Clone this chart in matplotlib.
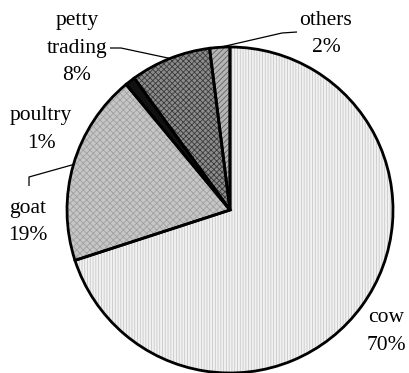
import numpy as np
import matplotlib
matplotlib.use("Agg")
import matplotlib.pyplot as plt

# data
labels = ["cow", "goat", "poultry", "petty\ntrading", "others"]
shares = [70, 19, 1, 8, 2]
pct_text = ["70%", "19%", "1%", "8%", "2%"]
face_cols = ["#f2f2f2", "#c6c6c6", "#111111", "#8c8c8c", "#b4b4b4"]
hatches = ["||||||", "xxxxx", None, "xxxxxx", "//////"]
hatch_cols = ["#c8c8c8", "#a0a0a0", None, "#3a3a3a", "#606060"]

W, H = 409, 373
cx, cy, R = 230, 210, 163   # pie centre and radius in pixels


def px(x, y):
    # pixel (from top-left) -> data coords, 1 unit = pie radius
    return (x - cx) / R, (cy - y) / R


fig = plt.figure(figsize=(W / 100, H / 100), dpi=100)
ax = fig.add_axes([0, 0, 1, 1])

plt.rcParams["hatch.linewidth"] = 0.6

# base fill
wedges, _ = ax.pie(shares, startangle=90, counterclock=False, radius=1,
                   colors=face_cols, wedgeprops=dict(linewidth=0))
# texture layer
for w, h, hc in zip(wedges, hatches, hatch_cols):
    if h is None:
        continue
    ax.pie([w.theta2 - w.theta1, 360 - (w.theta2 - w.theta1)], startangle=w.theta1,
           radius=1, colors=["none", "none"],
           wedgeprops=dict(linewidth=0, edgecolor=hc, hatch=h))
    # only keep first wedge hatch
    ax.patches[-1].remove()
# outline
ax.pie(shares, startangle=90, counterclock=False, radius=1,
       colors=["none"] * len(shares),
       wedgeprops=dict(linewidth=2, edgecolor="black"))

ax.set_xlim(-cx / R, (W - cx) / R)
ax.set_ylim((cy - H) / R, cy / R)
ax.set_aspect("equal")
ax.axis("off")

font = dict(family=["Liberation Serif", "DejaVu Serif"], fontsize=15.5,
            ha="center", va="baseline")

# label centre x and first baseline y (pixels), line step 27 px
lab_pos = {
    "cow": (386, 322),
    "goat": (28, 213),
    "poultry": (41, 120),
    "petty\ntrading": (77, 25),
    "others": (326, 25),
}
step = 27.5
for lab, pct in zip(labels, pct_text):
    x0, y0 = lab_pos[lab]
    for k, line in enumerate(lab.split("\n") + [pct]):
        x, y = px(x0, y0 + k * step)
        ax.text(x, y, line, **font)

# leader lines: from text end to wedge middle
mids = [np.deg2rad((w.theta1 + w.theta2) / 2) for w in wedges]
leaders = {
    1: [(29, 186), (29, 177)],
    3: [(110, 48), (121, 48)],
    4: [(297, 32), (282, 33)],
}
for i, pts in leaders.items():
    xs = [px(*p)[0] for p in pts] + [np.cos(mids[i])]
    ys = [px(*p)[1] for p in pts] + [np.sin(mids[i])]
    ax.plot(xs, ys, color="black", lw=0.9, solid_capstyle="butt")

fig.savefig("out.png", dpi=100)
